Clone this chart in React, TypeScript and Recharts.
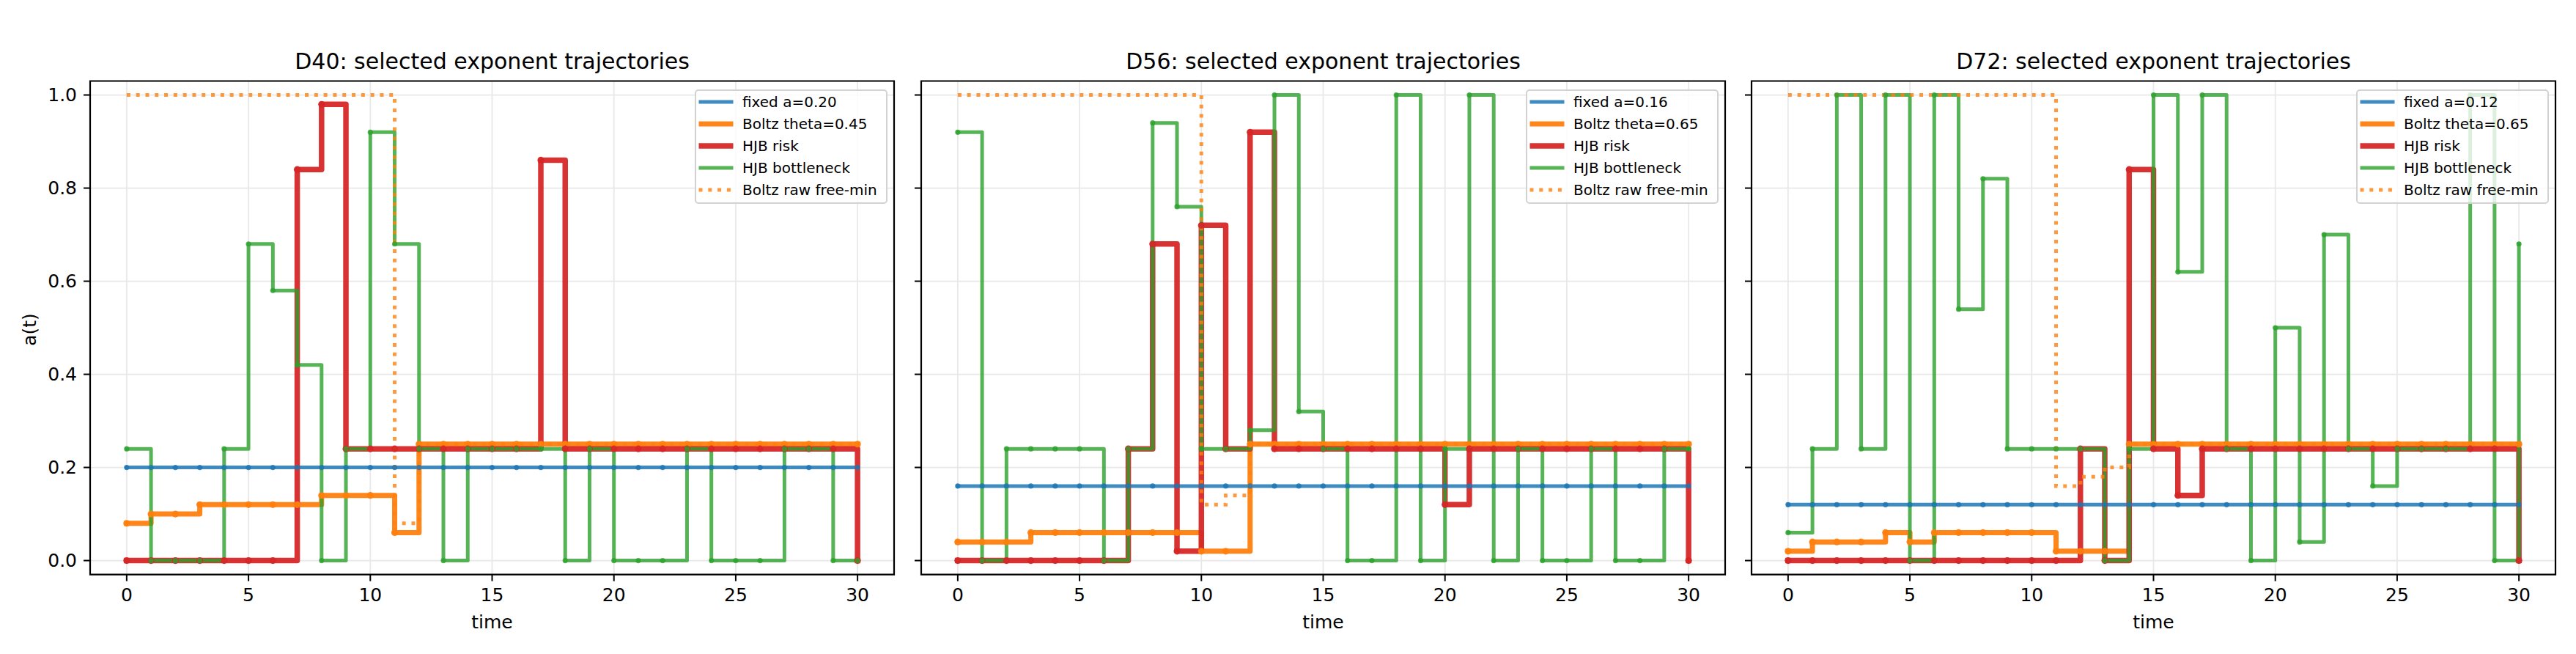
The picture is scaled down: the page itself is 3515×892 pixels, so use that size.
import React from "react";
import {
  CartesianGrid,
  Legend,
  Line,
  LineChart,
  ReferenceArea,
  XAxis,
  YAxis,
} from "recharts";

const FONT = "'DejaVu Sans', 'Liberation Sans', sans-serif";

// time steps 0..30
const times = [
  0, 1, 2, 3, 4, 5, 6, 7, 8, 9, 10, 11, 12, 13, 14, 15, 16, 17, 18, 19, 20,
  21, 22, 23, 24, 25, 26, 27, 28, 29, 30,
];

// ---- D40 ----
const fixedD40 = [
  0.2, 0.2, 0.2, 0.2, 0.2, 0.2, 0.2, 0.2, 0.2, 0.2, 0.2, 0.2, 0.2, 0.2, 0.2,
  0.2, 0.2, 0.2, 0.2, 0.2, 0.2, 0.2, 0.2, 0.2, 0.2, 0.2, 0.2, 0.2, 0.2, 0.2,
  0.2,
];
const boltzD40 = [
  0.08, 0.1, 0.1, 0.12, 0.12, 0.12, 0.12, 0.12, 0.14, 0.14, 0.14, 0.06, 0.25,
  0.25, 0.25, 0.25, 0.25, 0.25, 0.25, 0.25, 0.25, 0.25, 0.25, 0.25, 0.25, 0.25,
  0.25, 0.25, 0.25, 0.25, 0.25,
];
const riskD40 = [
  0, 0, 0, 0, 0, 0, 0, 0.84, 0.98, 0.24, 0.24, 0.24, 0.24, 0.24, 0.24, 0.24,
  0.24, 0.86, 0.24, 0.24, 0.24, 0.24, 0.24, 0.24, 0.24, 0.24, 0.24, 0.24, 0.24,
  0.24, 0,
];
const bottleneckD40 = [
  0.24, 0, 0, 0, 0.24, 0.68, 0.58, 0.42, 0, 0.24, 0.92, 0.68, 0.24, 0, 0.24,
  0.24, 0.24, 0.24, 0, 0.24, 0, 0, 0, 0.24, 0, 0, 0, 0.24, 0.24, 0, 0,
];
const rawD40 = [
  1, 1, 1, 1, 1, 1, 1, 1, 1, 1, 1, 0.08, 0.25, 0.25, 0.25, 0.25, 0.25, 0.25,
  0.25, 0.25, 0.25, 0.25, 0.25, 0.25, 0.25, 0.25, 0.25, 0.25, 0.25, 0.25, 0.25,
];

// ---- D56 ----
const fixedD56 = [
  0.16, 0.16, 0.16, 0.16, 0.16, 0.16, 0.16, 0.16, 0.16, 0.16, 0.16, 0.16, 0.16,
  0.16, 0.16, 0.16, 0.16, 0.16, 0.16, 0.16, 0.16, 0.16, 0.16, 0.16, 0.16, 0.16,
  0.16, 0.16, 0.16, 0.16, 0.16,
];
const boltzD56 = [
  0.04, 0.04, 0.04, 0.06, 0.06, 0.06, 0.06, 0.06, 0.06, 0.06, 0.02, 0.02, 0.25,
  0.25, 0.25, 0.25, 0.25, 0.25, 0.25, 0.25, 0.25, 0.25, 0.25, 0.25, 0.25, 0.25,
  0.25, 0.25, 0.25, 0.25, 0.25,
];
const riskD56 = [
  0, 0, 0, 0, 0, 0, 0, 0.24, 0.68, 0.02, 0.72, 0.24, 0.92, 0.24, 0.24, 0.24,
  0.24, 0.24, 0.24, 0.24, 0.12, 0.24, 0.24, 0.24, 0.24, 0.24, 0.24, 0.24, 0.24,
  0.24, 0,
];
const bottleneckD56 = [
  0.92, 0, 0.24, 0.24, 0.24, 0.24, 0, 0.24, 0.94, 0.76, 0.24, 0.24, 0.28, 1.0,
  0.32, 0.24, 0, 0, 1.0, 0, 0.24, 1.0, 0, 0.24, 0, 0, 0.24, 0, 0, 0.24, 0.24,
];
const rawD56 = [
  1, 1, 1, 1, 1, 1, 1, 1, 1, 1, 0.12, 0.14, 0.25, 0.25, 0.25, 0.25, 0.25, 0.25,
  0.25, 0.25, 0.25, 0.25, 0.25, 0.25, 0.25, 0.25, 0.25, 0.25, 0.25, 0.25, 0.25,
];

// ---- D72 ----
const fixedD72 = [
  0.12, 0.12, 0.12, 0.12, 0.12, 0.12, 0.12, 0.12, 0.12, 0.12, 0.12, 0.12, 0.12,
  0.12, 0.12, 0.12, 0.12, 0.12, 0.12, 0.12, 0.12, 0.12, 0.12, 0.12, 0.12, 0.12,
  0.12, 0.12, 0.12, 0.12, 0.12,
];
const boltzD72 = [
  0.02, 0.04, 0.04, 0.04, 0.06, 0.04, 0.06, 0.06, 0.06, 0.06, 0.06, 0.02, 0.02,
  0.02, 0.25, 0.25, 0.25, 0.25, 0.25, 0.25, 0.25, 0.25, 0.25, 0.25, 0.25, 0.25,
  0.25, 0.25, 0.25, 0.25, 0.25,
];
const riskD72 = [
  0, 0, 0, 0, 0, 0, 0, 0, 0, 0, 0, 0, 0.24, 0, 0.84, 0.24, 0.14, 0.24, 0.24,
  0.24, 0.24, 0.24, 0.24, 0.24, 0.24, 0.24, 0.24, 0.24, 0.24, 0.24, 0,
];
const bottleneckD72 = [
  0.06, 0.24, 1.0, 0.24, 1.0, 0, 1.0, 0.54, 0.82, 0.24, 0.24, 0.24, 0.24, 0,
  0.24, 1.0, 0.62, 1.0, 0.24, 0, 0.5, 0.04, 0.7, 0.24, 0.16, 0.24, 0.24, 0.24,
  1.0, 0, 0.68,
];
const rawD72 = [
  1, 1, 1, 1, 1, 1, 1, 1, 1, 1, 1, 0.16, 0.18, 0.2, 0.25, 0.25, 0.25, 0.25,
  0.25, 0.25, 0.25, 0.25, 0.25, 0.25, 0.25, 0.25, 0.25, 0.25, 0.25, 0.25, 0.25,
];

const titles = [
  "D40: selected exponent trajectories",
  "D56: selected exponent trajectories",
  "D72: selected exponent trajectories",
];
const fixedLabels = ["fixed a=0.20", "fixed a=0.16", "fixed a=0.12"];
const boltzLabels = ["Boltz theta=0.45", "Boltz theta=0.65", "Boltz theta=0.65"];

const xTicks = [0, 5, 10, 15, 20, 25, 30];
const yTicks = [0, 0.2, 0.4, 0.6, 0.8, 1.0];

// layout (px)
const PLOT_W = 1097;
const PLOT_TOP = 110.5;
const PLOT_BOTTOM = 783.6;
const AXIS_W = 123;
const RIGHT_PAD = 20;
const CHART_H = 892;
const X_AXIS_H = 60;
const plotLefts = [123, 1257, 2390];

const STYLES = {
  fixed: { color: "#1f77b4", width: 5, opacity: 0.85, r: 3.6 },
  boltz: { color: "#ff7f0e", width: 7, opacity: 0.95, r: 4.6 },
  risk: { color: "#d62728", width: 7.5, opacity: 0.95, r: 4.6 },
  bottleneck: { color: "#2ca02c", width: 5, opacity: 0.8, r: 3.6 },
  raw: { color: "#ff7f0e", width: 5, opacity: 0.8, dash: "5 7.8" },
};

type Row = {
  t: number;
  fixed: number;
  boltz: number;
  risk: number;
  bottleneck: number;
  raw: number;
};

function buildRows(
  fixed: number[],
  boltz: number[],
  risk: number[],
  bottleneck: number[],
  raw: number[]
): Row[] {
  return times.map((t, i) => ({
    t,
    fixed: fixed[i],
    boltz: boltz[i],
    risk: risk[i],
    bottleneck: bottleneck[i],
    raw: raw[i],
  }));
}

const panelRows = [
  buildRows(fixedD40, boltzD40, riskD40, bottleneckD40, rawD40),
  buildRows(fixedD56, boltzD56, riskD56, bottleneckD56, rawD56),
  buildRows(fixedD72, boltzD72, riskD72, bottleneckD72, rawD72),
];

type LegendItem = { label: string; key: keyof typeof STYLES };

function LegendBox({ items }: { items: LegendItem[] }) {
  return (
    <div
      style={{
        position: "relative",
        width: 263,
        height: 156,
        boxSizing: "border-box",
        border: "2px solid #d2d2d2",
        borderRadius: 5,
        background: "rgba(255,255,255,0.8)",
        fontFamily: FONT,
        fontSize: 20,
        color: "#000",
      }}
    >
      {items.map((it, i) => {
        const s = STYLES[it.key] as any;
        return (
          <div
            key={it.label}
            style={{ position: "absolute", left: 0, top: 30 * i, height: 30, width: "100%" }}
          >
            <svg width={56} height={30} style={{ position: "absolute", left: 0, top: 0 }}>
              <line
                x1={3.5}
                x2={50.5}
                y1={15}
                y2={15}
                stroke={s.color}
                strokeOpacity={s.opacity}
                strokeWidth={s.width}
                strokeDasharray={s.dash}
              />
            </svg>
            <span
              style={{
                position: "absolute",
                left: 63,
                top: 0,
                lineHeight: "30px",
                whiteSpace: "nowrap",
              }}
            >
              {it.label}
            </span>
          </div>
        );
      })}
    </div>
  );
}

function Panel({ idx }: { idx: number }) {
  const rows = panelRows[idx];
  const left = plotLefts[idx] - AXIS_W;
  const legendItems: LegendItem[] = [
    { label: fixedLabels[idx], key: "fixed" },
    { label: boltzLabels[idx], key: "boltz" },
    { label: "HJB risk", key: "risk" },
    { label: "HJB bottleneck", key: "bottleneck" },
    { label: "Boltz raw free-min", key: "raw" },
  ];
  const tickStyle = { fill: "#000", fontSize: 25, fontFamily: FONT };
  const solid = (key: "fixed" | "boltz" | "risk" | "bottleneck") => {
    const s = STYLES[key];
    return (
      <Line
        key={key}
        dataKey={key}
        type="stepAfter"
        stroke={s.color}
        strokeOpacity={s.opacity}
        strokeWidth={s.width}
        strokeLinejoin="round"
        strokeLinecap="square"
        dot={{ r: s.r, fill: s.color, fillOpacity: s.opacity, stroke: "none" }}
        activeDot={false}
        isAnimationActive={false}
      />
    );
  };

  return (
    <div style={{ position: "absolute", left, top: 0 }}>
      <LineChart
        width={AXIS_W + PLOT_W + RIGHT_PAD}
        height={CHART_H}
        data={rows}
        margin={{
          top: PLOT_TOP,
          right: RIGHT_PAD,
          bottom: CHART_H - PLOT_BOTTOM - X_AXIS_H,
          left: 0,
        }}
      >
        <CartesianGrid
          stroke="#e8e8e8"
          strokeWidth={1.8}
          horizontalValues={yTicks}
          verticalValues={xTicks}
        />
        <XAxis
          dataKey="t"
          type="number"
          domain={[-1.5, 31.5]}
          ticks={xTicks}
          interval={0}
          allowDataOverflow
          height={X_AXIS_H}
          axisLine={false}
          tickSize={9}
          tickMargin={10}
          tickLine={{ stroke: "#000", strokeWidth: 2 }}
          tick={tickStyle}
        />
        <YAxis
          type="number"
          domain={[-0.03, 1.03]}
          ticks={yTicks}
          interval={0}
          allowDataOverflow
          width={AXIS_W}
          axisLine={false}
          tickSize={9}
          tickMargin={9}
          tickLine={{ stroke: "#000", strokeWidth: 2 }}
          tick={tickStyle}
          tickFormatter={(v: number) => (idx === 0 ? v.toFixed(1) : "")}
        />
        {solid("fixed")}
        {solid("boltz")}
        {solid("risk")}
        {solid("bottleneck")}
        <Line
          dataKey="raw"
          type="stepAfter"
          stroke={STYLES.raw.color}
          strokeOpacity={STYLES.raw.opacity}
          strokeWidth={STYLES.raw.width}
          strokeDasharray={STYLES.raw.dash}
          dot={false}
          activeDot={false}
          isAnimationActive={false}
        />
        <ReferenceArea
          x1={-1.5}
          x2={31.5}
          y1={-0.03}
          y2={1.03}
          fill="none"
          fillOpacity={0}
          stroke="#000"
          strokeWidth={2.2}
          ifOverflow="visible"
        />
        <Legend
          layout="horizontal"
          align="center"
          verticalAlign="middle"
          wrapperStyle={{
            position: "absolute",
            left: AXIS_W + PLOT_W - 9 - 263,
            top: 121.7,
            width: 263,
            height: 156,
          }}
          content={() => <LegendBox items={legendItems} />}
        />
      </LineChart>
    </div>
  );
}

export default function App() {
  return (
    <div
      style={{
        position: "absolute",
        left: 0,
        top: 0,
        width: 3515,
        height: 892,
        background: "#fff",
        overflow: "hidden",
      }}
    >
      {[0, 1, 2].map((i) => (
        <Panel key={i} idx={i} />
      ))}
      <svg
        width={3515}
        height={892}
        style={{ position: "absolute", left: 0, top: 0, pointerEvents: "none" }}
        fontFamily={FONT}
      >
        {plotLefts.map((pl, i) => (
          <g key={i}>
            <text x={pl + PLOT_W / 2} y={94.3} textAnchor="middle" fontSize={30} fill="#000">
              {titles[i]}
            </text>
            <text x={pl + PLOT_W / 2} y={857} textAnchor="middle" fontSize={25} fill="#000">
              time
            </text>
          </g>
        ))}
        <text
          transform="translate(48.5, 449.5) rotate(-90)"
          textAnchor="middle"
          fontSize={25}
          fill="#000"
        >
          a(t)
        </text>
      </svg>
    </div>
  );
}
